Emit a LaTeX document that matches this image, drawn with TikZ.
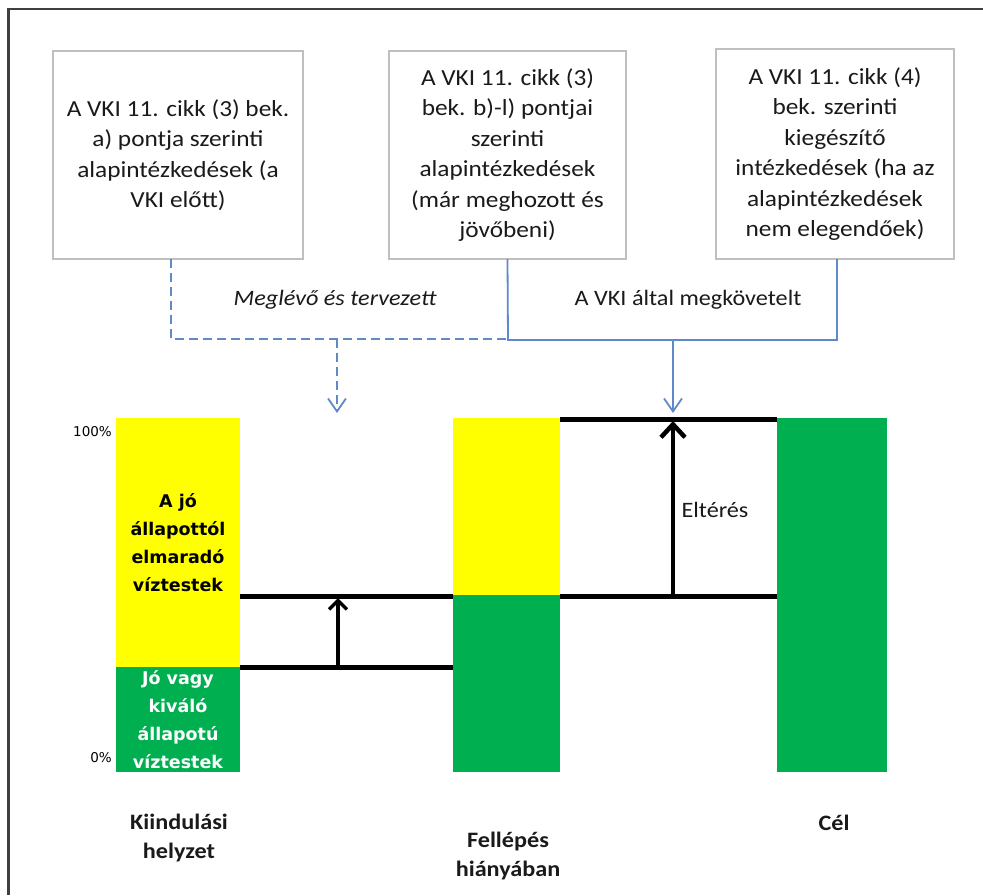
\documentclass[tikz,border=0pt]{standalone}
\usepackage{fontspec}
\setmainfont{Carlito}[FakeStretch=1.1]
\newfontfamily\dvfont{DejaVu Sans}
\usetikzlibrary{arrows.meta}
\definecolor{framegray}{HTML}{404040}
\definecolor{boxgray}{HTML}{BFBFBF}
\definecolor{lblue}{HTML}{5F8AC8}
\definecolor{bargreen}{HTML}{00B050}
\definecolor{baryellow}{HTML}{FFFF00}
\definecolor{txt}{HTML}{1A1A1A}
\tikzset{
  textbox/.style={draw=boxgray, line width=2pt, fill=white, inner sep=0pt, outer sep=0pt,
    minimum width=250pt, minimum height=208pt, align=center, text=txt,
    font=\fontsize{23}{30.5}\selectfont},
  bar/.style={inner sep=0pt, outer sep=0pt, draw=none},
  bartext/.style={align=center, font=\dvfont\bfseries\fontsize{17.5}{28}\selectfont},
  blkline/.style={line width=5pt, black},
  blkarrow/.style={line width=3.5pt, black, -{Straight Barb[length=9pt,width=18pt,line width=3.5pt]}},
  bigarrow/.style={line width=4.5pt, black, -{Straight Barb[length=13pt,width=24pt,line width=4.5pt]}},
  bsolid/.style={lblue, line width=1.8pt},
  bdash/.style={lblue, line width=1.8pt, dash pattern=on 9pt off 5pt},
  bhead/.style={-{Straight Barb[length=13pt,width=18pt]}},
  lbl/.style={text=txt, font=\fontsize{22}{29}\selectfont},
  bottomlbl/.style={align=center, text=txt, font=\bfseries\fontsize{22}{29}\selectfont},
  pct/.style={anchor=east, inner sep=0pt, font=\dvfont\fontsize{13.5}{14}\selectfont}
}
\begin{document}
\begin{tikzpicture}[x=1pt,y=-1pt]
\useasboundingbox (0,0) rectangle (983,895);
\fill[white] (0,0) rectangle (983,895);
% outer frame (top and left edges)
\draw[framegray, line width=2.5pt] (983,9) -- (8.5,9) -- (8.5,895);

% top boxes
\node[textbox] (b1) at (178,155) {A VKI 11. cikk (3) bek.\\a) pontja szerinti\\alapintézkedések (a\\VKI előtt)};
\node[textbox, minimum width=237pt] (b2) at (507.5,155) {A VKI 11. cikk (3)\\bek. b)-l) pontjai\\szerinti\\alapintézkedések\\(már meghozott és\\jövőbeni)};
\node[textbox, minimum width=238pt, minimum height=210pt] (b3) at (835,154) {A VKI 11. cikk (4)\\bek. szerinti\\kiegészítő\\intézkedések (ha az\\alapintézkedések\\nem elegendőek)};

% bars
\node[bar, fill=baryellow, minimum width=124pt, minimum height=249pt] (y1) at (178,542.5) {};
\node[bar, fill=bargreen, minimum width=124pt, minimum height=105pt] (g1) at (178,719.5) {};
\node[bar, fill=baryellow, minimum width=107pt, minimum height=177pt] (y2) at (506.5,506.5) {};
\node[bar, fill=bargreen, minimum width=107pt, minimum height=177pt] (g2) at (506.5,683.5) {};
\node[bar, fill=bargreen, minimum width=110pt, minimum height=354pt] (g3) at (832,595) {};

\node[bartext] (t1) at (178,543) {A jó\\állapottól\\elmaradó\\víztestek};
\node[bartext, text=white] (t2) at (178,720) {Jó vagy\\kiváló\\állapotú\\víztestek};

\node[pct] (p100) at (112,432) {100\%};
\node[pct] (p0) at (112,758) {0\%};

% connector coordinates
\coordinate (d1) at (171,259);
\coordinate (d2) at (171,339);
\coordinate (d3) at (508,339);
\coordinate (d4) at (337,339);
\coordinate (d5) at (337,413);
\coordinate (s1) at (508,340);
\coordinate (s2) at (837,340);
\coordinate (s3) at (837,259);
\coordinate (s4) at (673,340);
\coordinate (s5) at (673,413);

% blue connectors
\draw[bdash] (d1) -- (d2) -- (d3);
\draw[bdash, bhead] (d4) -- (d5);
\draw[bsolid] (b2.south) -- (s1) -- (s2) -- (s3);
\draw[bsolid, bhead] (s4) -- (s5);

\node[lbl, font=\itshape\fontsize{22}{29}\selectfont] (m1) at (335,300) {Meglévő és tervezett};
\node[lbl] (m2) at (688,300) {A VKI által megkövetelt};

% black level lines
\coordinate (h1a) at (240,596);
\coordinate (h1b) at (453,596);
\coordinate (h2a) at (240,667);
\coordinate (h2b) at (453,667);
\coordinate (h3a) at (560,419);
\coordinate (h3b) at (777,419);
\coordinate (h4a) at (560,596);
\coordinate (h4b) at (777,596);
\draw[blkline] (h1a) -- (h1b);
\draw[blkline] (h2a) -- (h2b);
\draw[blkline] (h3a) -- (h3b);
\draw[blkline] (h4a) -- (h4b);

\coordinate (a1s) at (338,667);
\coordinate (a1e) at (338,598);
\coordinate (a2s) at (673,596);
\coordinate (a2e) at (673,421);
\draw[blkarrow] (a1s) -- (a1e);
\draw[bigarrow] (a2s) -- (a2e);

\node[lbl, anchor=west] (elt) at (678,510) {Eltérés};

% bottom labels
\node[bottomlbl] (k1) at (179,837.5) {Kiindulási\\helyzet};
\node[bottomlbl] (k2) at (508,856) {Fellépés\\hiányában};
\node[bottomlbl] (k3) at (834,823) {Cél};
\end{tikzpicture}
\end{document}
